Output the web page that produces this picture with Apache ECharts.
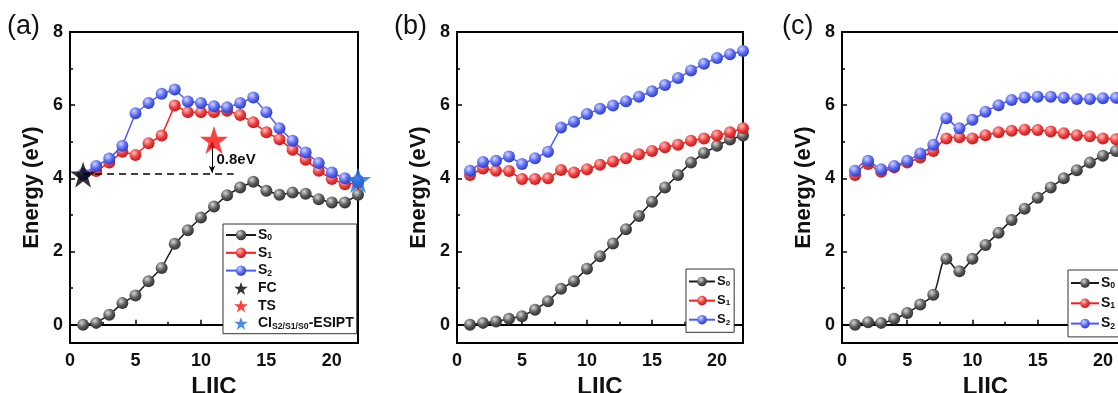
<!DOCTYPE html>
<html><head><meta charset="utf-8">
<script src="https://cdn.jsdelivr.net/npm/echarts@6/dist/echarts.min.js"></script>
<style>html,body{margin:0;padding:0;background:#fff}#c{width:1118px;height:393px}</style>
</head><body><div id="c"></div>
<script>
// ---- data ----
const LIIC = [1,2,3,4,5,6,7,8,9,10,11,12,13,14,15,16,17,18,19,20,21,22];
const panelLabels = ['(a)', '(b)', '(c)'];
const seriesNames = ['S0', 'S1', 'S2'];
const yTickLabels = [0, 2, 4, 6, 8];
const yMinorTicks = [1, 3, 5, 7];

const a_S0 = [0,0.05,0.27,0.59,0.8,1.19,1.55,2.21,2.58,2.93,3.23,3.54,3.75,3.91,3.66,3.55,3.61,3.58,3.43,3.34,3.34,3.55];
const a_S1 = [4.1,4.2,4.43,4.73,4.64,4.96,5.17,5.99,5.81,5.81,5.81,5.85,5.73,5.53,5.26,5.07,4.78,4.51,4.21,3.98,3.84,3.88];
const a_S2 = [4.12,4.34,4.54,4.89,5.78,6.06,6.31,6.43,6.1,6.06,5.97,5.94,6.06,6.21,5.81,5.37,5.03,4.71,4.42,4.16,4.0,3.95];

const b_S0 = [0,0.05,0.09,0.16,0.23,0.41,0.64,0.98,1.19,1.53,1.87,2.22,2.61,2.97,3.36,3.75,4.09,4.43,4.69,4.89,5.06,5.17];
const b_S1 = [4.09,4.27,4.21,4.2,3.98,3.98,4.0,4.23,4.16,4.25,4.37,4.46,4.55,4.66,4.75,4.85,4.92,5.03,5.09,5.17,5.26,5.37];
const b_S2 = [4.21,4.45,4.48,4.6,4.39,4.55,4.73,5.39,5.55,5.76,5.9,5.99,6.11,6.23,6.38,6.55,6.74,6.95,7.13,7.29,7.39,7.48];

const c_S0 = [0,0.07,0.05,0.16,0.32,0.55,0.82,1.8,1.46,1.8,2.18,2.51,2.86,3.17,3.47,3.75,4.0,4.22,4.43,4.62,4.75,4.85];
const c_S1 = [4.09,4.39,4.18,4.3,4.43,4.57,4.75,5.09,5.12,5.09,5.18,5.26,5.3,5.33,5.32,5.28,5.23,5.18,5.15,5.09,5.07,5.05];
const c_S2 = [4.21,4.48,4.25,4.34,4.48,4.68,4.92,5.64,5.37,5.6,5.82,6.0,6.14,6.21,6.23,6.23,6.2,6.17,6.17,6.19,6.2,6.2];

// special points in panel (a): [LIIC, energy]
const FC = [1, 4.1];
const TS = [11, 5.05];
const CI = [22, 3.95];
const gapLine = [[1, 4.13], [12.5, 4.13]];
const gapArrow = [[10.85, 4.15], [10.85, 5.0]];
const gapText = {text: '0.8eV', at: [11.15, 4.5]};

// ---- styling ----
const FONT = 'Arial, "Liberation Sans", sans-serif';
const lineColors = ['#1a1a1a', '#ff1a1a', '#4a5cff'];
const ballStops = [
  ['#d8d8d8', '#5a5a5a', '#2e2e2e'],
  ['#ffc0c0', '#f03c3c', '#b81c1c'],
  ['#d0d4ff', '#5a6af5', '#2c3ab8']
];
function ball(i) {
  return {type: 'radial', x: 0.38, y: 0.33, r: 0.7,
    colorStops: [{offset: 0, color: ballStops[i][0]}, {offset: 0.55, color: ballStops[i][1]}, {offset: 1, color: ballStops[i][2]}]};
}
const STAR = 'path://M50,0 L61.8,35.1 L98.1,35.1 L68.5,56.7 L79.4,91.9 L50,70 L20.6,91.9 L31.5,56.7 L1.9,35.1 L38.2,35.1 Z';
const pairs = arr => arr.map((v, i) => [LIIC[i], v]);

const grids = [
  {left: 70, width: 288, top: 32, height: 311},
  {left: 457, width: 286, top: 32, height: 311},
  {left: 842, width: 287, top: 32, height: 311}
];

const xAxes = grids.map((g, i) => ({
  type: 'value', gridIndex: i, min: 0, max: 22, interval: 5,
  name: 'LIIC', nameLocation: 'middle', nameGap: 26,
  nameTextStyle: {fontFamily: FONT, fontWeight: 'bold', fontSize: 24, color: '#111'},
  axisLine: {lineStyle: {color: '#000', width: 2}},
  axisTick: {inside: true, length: 5, lineStyle: {width: 1.5}},
  minorTick: {show: true, splitNumber: 2, length: 3, lineStyle: {color: '#000', width: 1.5}},
  axisLabel: {fontFamily: FONT, fontWeight: 'bold', fontSize: 18, color: '#111', margin: 9, showMaxLabel: false},
  splitLine: {show: false}
}));
const yMain = grids.map((g, i) => ({
  type: 'value', gridIndex: i, min: -0.5, max: 8, interval: 0.5,
  name: 'Energy (eV)', nameLocation: 'middle', nameGap: 27,
  nameTextStyle: {fontFamily: FONT, fontWeight: 'bold', fontSize: 22, color: '#111'},
  axisLine: {lineStyle: {color: '#000', width: 2}},
  axisTick: {inside: true, length: 5, lineStyle: {width: 1.5}, customValues: yTickLabels},
  axisLabel: {fontFamily: FONT, fontWeight: 'bold', fontSize: 18, color: '#111', margin: 7, customValues: yTickLabels},
  splitLine: {show: false}
}));
const yMinor = grids.map((g, i) => ({
  type: 'value', gridIndex: i, min: -0.5, max: 8, interval: 0.5, position: 'left',
  axisLine: {show: false},
  axisTick: {inside: true, length: 3, lineStyle: {width: 1.5, color: '#000'}, customValues: yMinorTicks},
  axisLabel: {show: false},
  splitLine: {show: false}
}));

const panelData = [[a_S0, a_S1, a_S2], [b_S0, b_S1, b_S2], [c_S0, c_S1, c_S2]];
const series = [];
panelData.forEach((sets, p) => {
  sets.forEach((arr, k) => {
    series.push({
      type: 'line', name: seriesNames[k], xAxisIndex: p, yAxisIndex: p,
      data: pairs(arr), smooth: p === 2 ? 0.35 : false,
      symbol: 'circle', symbolSize: 12, showAllSymbol: true,
      lineStyle: {color: lineColors[k], width: 1.5},
      itemStyle: {color: ball(k), borderWidth: 0},
      emphasis: {disabled: true}, z: 2 + k
    });
  });
});
series.push({
  type: 'scatter', name: 'FC', xAxisIndex: 0, yAxisIndex: 0, data: [FC],
  symbol: STAR, symbolSize: 26, itemStyle: {color: '#000'}, z: 10,
  markLine: {silent: true, symbol: ['none', 'none'], label: {show: false},
    lineStyle: {color: '#000', type: [7, 5], width: 1.5},
    data: [[{coord: gapLine[0]}, {coord: gapLine[1]}]]}
});
series.push({
  type: 'scatter', name: 'TS', xAxisIndex: 0, yAxisIndex: 0, data: [TS],
  symbol: STAR, symbolSize: 28, itemStyle: {color: '#ff1010'}, z: 10,
  markLine: {silent: true, symbol: ['arrow', 'arrow'], symbolSize: [5, 7], label: {show: false},
    lineStyle: {color: '#000', type: 'solid', width: 1},
    data: [[{coord: gapArrow[0]}, {coord: gapArrow[1]}]]},
  markPoint: {silent: true, symbol: 'circle', symbolSize: 1, itemStyle: {color: 'rgba(0,0,0,0)'},
    label: {show: true, position: 'right', distance: 0, formatter: gapText.text, color: '#111',
      fontFamily: FONT, fontWeight: 'bold', fontSize: 15},
    data: [{coord: gapText.at}]}
});
series.push({
  type: 'scatter', name: 'CI', xAxisIndex: 0, yAxisIndex: 0, data: [CI],
  symbol: STAR, symbolSize: 26, itemStyle: {color: '#1f6fe0'}, z: 10
});

const subFmt = n => {
  if (n === 'CI') return 'CI{sub|S2/S1/S0}-ESIPT';
  if (n[0] === 'S') return 'S{sub|' + n.slice(1) + '}';
  return n;
};
function legend(left, top, data, fs, gap, iw, ih, pad) {
  return {
    left, top, orient: 'vertical', data, itemGap: gap, itemWidth: iw, itemHeight: ih,
    padding: pad, borderColor: '#333', borderWidth: 1, backgroundColor: '#fff',
    selectedMode: false, formatter: subFmt,
    textStyle: {fontFamily: FONT, fontWeight: 'bold', fontSize: fs, color: '#111', padding: [0, 0, 0, -3],
      rich: {sub: {fontFamily: FONT, fontWeight: 'bold', fontSize: fs * 0.62, color: '#111', verticalAlign: 'bottom', padding: [fs * 0.4, 0, 0, 0]}}}
  };
}

const option = {
  animation: false,
  backgroundColor: '#fff',
  grid: grids.map(g => Object.assign({show: true, borderColor: '#000', borderWidth: 2, backgroundColor: 'transparent',
    containLabel: false, outerBoundsMode: 'none'}, g)),
  xAxis: xAxes, yAxis: yMain.concat(yMinor), series,
  legend: [
    legend(223, 224, ['S0', 'S1', 'S2', 'FC', 'TS', 'CI'], 14, 3.5, 30, 13, [4, 3, 3, 2]),
    legend(686, 269, ['S0', 'S1', 'S2'], 13, 6, 26, 12, [6, 4, 6, 2]),
    legend(1068, 270, ['S0', 'S1', 'S2'], 14, 6, 28, 12, [6, 4, 6, 2])
  ],
  graphic: panelLabels.map((t, i) => ({
    type: 'text', left: [7, 394, 782][i], top: 13,
    style: {text: t, font: '27px ' + FONT, fill: '#111'}
  }))
};
const chart = echarts.init(document.getElementById('c'), null, {renderer: 'canvas'});
chart.setOption(option);
</script></body></html>
